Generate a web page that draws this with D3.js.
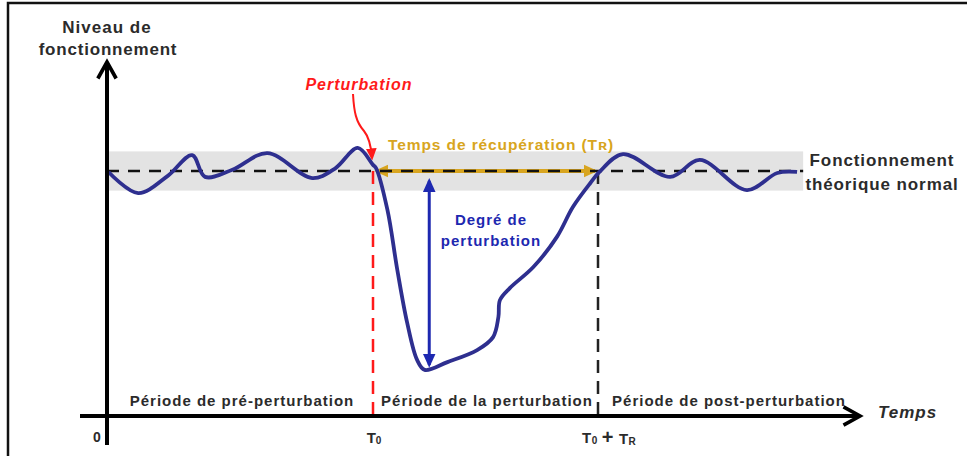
<!DOCTYPE html>
<html>
<head>
<meta charset="utf-8">
<title>Niveau de fonctionnement</title>
<script src="https://cdnjs.cloudflare.com/ajax/libs/d3/7.8.5/d3.min.js"></script>
<style>
  body { margin: 0; background: #fff; }
  svg text { font-family: "Liberation Sans", Arial, sans-serif; font-weight: bold; }
</style>
</head>
<body>
<svg id="svg" width="967" height="456"></svg>
<script>
// time (0..100) and level (normal = 100)
const curveTime  = [0.2, 4.1, 8, 11.2, 12.9, 16.5, 21.1, 27.0, 30, 33.0, 35.0, 35.4, 36.9, 38.2, 39.5, 40.8, 41.8, 44.8, 48.7, 50.8, 51.5, 51.7, 53.0, 56.1, 59.2, 61.3, 63.6, 64.8, 67.9, 74.1, 78.0, 84.2, 88.2, 90.8]
const curveLevel = [99.6, 91.0, 98, 106.5, 97.6, 100.5, 107.3, 97.1, 101, 109.4, 102.5, 101.2, 84.1, 59.6, 38.0, 22.9, 18.8, 22.0, 26.9, 32.2, 40.4, 47.3, 52.2, 60.8, 73.1, 85.3, 95.1, 99.6, 106.9, 97.6, 104.5, 92.2, 99.2, 99.6]

const normalLevel = 100
const bandHalf = 8
const T0 = 35
const TR = 30
const minLevel = 18.8

const periodLabels = ['Période de pré-perturbation', 'Période de la perturbation', 'Période de post-perturbation']

const svg = d3.select('#svg')

const x = d3.scaleLinear().domain([0, 100]).range([107, 867])
const y = d3.scaleLinear().domain([0, 100]).range([416, 171])

const navy = '#2e2f8f'
const gold = '#d8a520'
const red = '#ff1a1a'
const blue = '#1d28b0'
const txt = '#2b2b2b'

// frame
svg.append('rect')
  .attr('x', 8).attr('y', 3).attr('width', 980).attr('height', 470)
  .attr('fill', 'none').attr('stroke', '#111').attr('stroke-width', 2.5)

const defs = svg.append('defs')
function marker(id, color, size) {
  defs.append('marker')
    .attr('id', id)
    .attr('viewBox', '0 -5 10 10')
    .attr('refX', 8).attr('refY', 0)
    .attr('markerWidth', size).attr('markerHeight', size)
    .attr('markerUnits', 'userSpaceOnUse')
    .attr('orient', 'auto-start-reverse')
    .append('path')
    .attr('d', 'M0,-4.5L10,0L0,4.5Z')
    .attr('fill', color)
}
marker('mGold', gold, 14)
marker('mBlue', blue, 14)
marker('mRed', red, 12)
defs.append('marker')
  .attr('id', 'mAxis')
  .attr('viewBox', '0 -6 12 12')
  .attr('refX', 10).attr('refY', 0)
  .attr('markerWidth', 22).attr('markerHeight', 22)
  .attr('markerUnits', 'userSpaceOnUse')
  .attr('orient', 'auto')
  .append('path')
  .attr('d', 'M1,-5L10,0L1,5')
  .attr('fill', 'none').attr('stroke', '#000').attr('stroke-width', 2)

// normal band
svg.append('rect')
  .attr('x', x(0)).attr('y', y(normalLevel + bandHalf))
  .attr('width', x(91.6) - x(0))
  .attr('height', y(normalLevel - bandHalf) - y(normalLevel + bandHalf))
  .attr('fill', '#e3e3e3')

// vertical period separators
svg.append('line')
  .attr('x1', x(T0)).attr('x2', x(T0))
  .attr('y1', y(normalLevel)).attr('y2', y(0))
  .attr('stroke', red).attr('stroke-width', 2.5).attr('stroke-dasharray', '13,8')
svg.append('line')
  .attr('x1', x(T0 + TR) - 3).attr('x2', x(T0 + TR) - 3)
  .attr('y1', y(normalLevel)).attr('y2', y(0))
  .attr('stroke', '#222').attr('stroke-width', 2.5).attr('stroke-dasharray', '13,8')

// recovery time arrow (under dashed line)
svg.append('line')
  .attr('x1', x(T0) + 4).attr('x2', x(T0 + TR) - 6)
  .attr('y1', y(normalLevel)).attr('y2', y(normalLevel))
  .attr('stroke', gold).attr('stroke-width', 4)
  .attr('marker-start', 'url(#mGold)').attr('marker-end', 'url(#mGold)')

// normal dashed line
svg.append('line')
  .attr('x1', x(0)).attr('x2', x(91.6))
  .attr('y1', y(normalLevel)).attr('y2', y(normalLevel))
  .attr('stroke', '#111').attr('stroke-width', 2.5).attr('stroke-dasharray', '12,9')

// degree of perturbation arrow
svg.append('line')
  .attr('x1', x(42.4)).attr('x2', x(42.4))
  .attr('y1', y(96)).attr('y2', y(minLevel + 2))
  .attr('stroke', blue).attr('stroke-width', 3)
  .attr('marker-start', 'url(#mBlue)').attr('marker-end', 'url(#mBlue)')

// curve
const pts = curveTime.map((t, i) => [t, curveLevel[i]])
svg.append('path')
  .datum(pts)
  .attr('d', d3.line().x(d => x(d[0])).y(d => y(d[1])).curve(d3.curveCatmullRom.alpha(0.5)))
  .attr('fill', 'none').attr('stroke', navy).attr('stroke-width', 3.8)

// perturbation arrow
svg.append('path')
  .attr('d', 'M353,94 C354,112 356,122 364,131 C369,137 371,145 372,158')
  .attr('fill', 'none').attr('stroke', red).attr('stroke-width', 2)
  .attr('marker-end', 'url(#mRed)')

// axes
svg.append('line')
  .attr('x1', x(0)).attr('x2', x(0))
  .attr('y1', 445).attr('y2', 62)
  .attr('stroke', '#000').attr('stroke-width', 4)
  .attr('marker-end', 'url(#mAxis)')
svg.append('line')
  .attr('x1', 80).attr('x2', 860)
  .attr('y1', y(0)).attr('y2', y(0))
  .attr('stroke', '#000').attr('stroke-width', 4)
  .attr('marker-end', 'url(#mAxis)')

// texts
function label(t, px, py, opts) {
  opts = opts || {}
  return svg.append('text')
    .attr('x', px).attr('y', py)
    .attr('text-anchor', opts.anchor || 'middle')
    .attr('font-size', opts.size || 14)
    .attr('letter-spacing', opts.ls || 0)
    .attr('font-style', opts.italic ? 'italic' : null)
    .attr('fill', opts.color || txt)
    .text(t)
}
label('Niveau de', 107, 33, {size: 17, ls: 1})
label('fonctionnement', 108, 55, {size: 17, ls: 0.8})
label('Fonctionnement', 882, 166, {size: 17, ls: 0.9})
label('théorique normal', 882, 190, {size: 17, ls: 0.9})
label('Perturbation', 359, 90, {size: 16, ls: 1, italic: true, color: red})
label('Temps de récupération (Tʀ)', 501, 150, {size: 15.5, ls: 0.9, color: gold})
label('Degré de', 491, 225, {size: 15, ls: 1, color: blue})
label('perturbation', 491, 246, {size: 15, ls: 1, color: blue})
label('Temps', 878, 418, {anchor: 'start', size: 17, ls: 1, italic: true})

const periodX = [(x(0) + x(T0)) / 2 + 2, (x(T0) + x(T0 + TR)) / 2, 729]
periodLabels.forEach((p, i) => label(p, periodX[i], 406, {size: 15, ls: 1}))

label('0', 97, 442, {size: 14})
const t0 = label('T', x(T0) + 1, 443, {size: 15})
t0.append('tspan').attr('font-size', 10).attr('dy', 1).text('0')
const tr = label('T', 582, 443, {size: 15, anchor: 'start', ls: 0.5})
tr.append('tspan').attr('font-size', 10).attr('dy', 1).text('0')
tr.append('tspan').attr('font-size', 20).attr('dy', 0).attr('dx', 4).text('+')
tr.append('tspan').attr('font-size', 15).attr('dx', 5).text('T')
tr.append('tspan').attr('font-size', 10).attr('dy', 1).text('R')
</script>
</body>
</html>
